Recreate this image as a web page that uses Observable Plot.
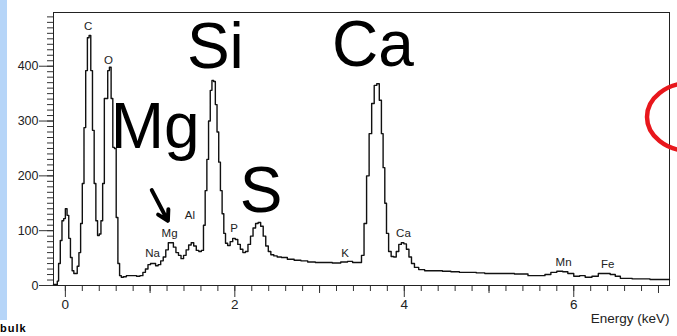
<!DOCTYPE html>
<html>
<head>
<meta charset="utf-8">
<script src="https://cdn.jsdelivr.net/npm/d3@7"></script>
<script src="https://cdn.jsdelivr.net/npm/@observablehq/plot@0.6"></script>
<style>
html,body{margin:0;padding:0;background:#fff;}
#wrap{position:relative;width:677px;height:336px;overflow:hidden;font-family:"Liberation Sans",Arial,sans-serif;background:#fff;}
#chart{position:absolute;left:0;top:0;}
#strip{position:absolute;left:0;top:0;width:7px;height:320px;background:#b6d5f8;}
#foot{position:absolute;left:0;top:322px;font:bold 11px/12px "Liberation Sans",Arial,sans-serif;color:#000;letter-spacing:1px;}
#arc{position:absolute;left:0;top:0;pointer-events:none;}
</style>
</head>
<body>
<div id="wrap">
  <div id="chart"></div>
  <div id="strip"></div>
  <div id="foot">bulk</div>
  <svg id="arc" width="677" height="336"><ellipse cx="690" cy="117" rx="43" ry="34" fill="none" stroke="#e8171c" stroke-width="4.5"/></svg>
</div>
<script>
// Spectrum (energy in keV, counts)
const energy = [
  -0.14,-0.10,-0.09,-0.07,-0.05,-0.03,-0.01,0.01,0.03,0.05,
  0.07,0.09,0.11,0.13,0.15,0.17,0.19,0.21,0.23,0.25,
  0.27,0.29,0.31,0.33,0.35,0.37,0.39,0.41,0.43,0.45,
  0.47,0.49,0.51,0.53,0.55,0.57,0.59,0.61,0.63,0.65,
  0.67,0.70,0.74,0.78,0.82,0.86,0.90,0.93,0.96,0.99,
  1.02,1.05,1.08,1.11,1.14,1.17,1.20,1.23,1.26,1.29,
  1.32,1.35,1.38,1.41,1.44,1.47,1.50,1.53,1.56,1.59,
  1.62,1.64,1.66,1.68,1.70,1.72,1.74,1.76,1.78,1.80,
  1.82,1.84,1.86,1.88,1.90,1.93,1.96,1.99,2.02,2.05,
  2.08,2.11,2.14,2.17,2.20,2.23,2.26,2.29,2.32,2.35,
  2.38,2.41,2.44,2.48,2.52,2.58,2.66,2.74,2.82,2.90,
  3.00,3.10,3.20,3.30,3.36,3.42,3.48,3.51,3.54,3.57,
  3.60,3.63,3.66,3.69,3.72,3.74,3.76,3.78,3.80,3.83,
  3.86,3.89,3.92,3.95,3.98,4.01,4.04,4.07,4.10,4.14,
  4.20,4.28,4.40,4.50,4.60,4.70,4.80,4.90,5.00,5.20,
  5.40,5.52,5.62,5.70,5.76,5.84,5.90,5.96,6.04,6.10,
  6.17,6.26,6.32,6.40,6.46,6.52,6.58,6.80,7.00,7.13
];
const counts = [
  2,2,8,40,82,118,122,140,128,86,
  51,27,22,22,35,60,113,186,288,392,
  452,456,392,283,186,118,91,94,118,186,
  341,341,392,398,341,252,250,124,40,18,
  15,16,18,18,18,17,18,24,30,38,
  40,40,36,38,45,52,65,78,78,70,
  60,55,49,55,65,74,78,72,64,62,
  64,110,173,230,300,356,374,372,330,280,
  225,173,131,95,77,73,80,86,84,75,
  66,60,62,75,90,105,113,115,108,90,
  72,62,56,54,52,51,48,46,45,43,
  42,42,41,43,44,42,42,55,113,200,
  277,332,365,368,338,277,215,150,95,62,
  53,52,62,75,78,76,66,52,40,33,
  29,27,27,26,25,24,24,23,22,22,
  21,18,18,20,24,26,25,22,17,18,
  15,17,22,22,20,17,13,12,11,11
];

// Small peak labels
const peakLabels = ["C","O","Na","Mg","Al","P","K","Ca","Mn","Fe"];
const peakLabelEnergy = [0.27,0.51,1.03,1.23,1.47,1.99,3.30,3.99,5.88,6.40];
const peakLabelCounts = [473,411,58,95,128,104,58,95,42,38];

// Large element annotations
const bigLabels = ["Si","Mg","S","Ca"];
const bigLabelEnergy = [1.77,1.06,2.31,3.63];
const bigLabelCounts = [435,289,172,438];

// Arrow pointing at the Mg peak
const arrowFrom = [1.02, 174];
const arrowTo = [1.21, 118];

// Axis ticks
const yMajorTicks = [0,100,200,300,400];
const yMinorTicks = d3.range(0, 500, 10);
const xMajorTicks = [0,2,4,6];
const xMidTicks = [1,3,5,7];
const xMinorTicks = d3.range(0, 36).map(i => i * 0.2);
const xAxisTitle = ["Energy (keV)"];

const spectrum = energy.map((e, i) => ({e, c: counts[i]}));
const small = peakLabels.map((t, i) => ({t, e: peakLabelEnergy[i], c: peakLabelCounts[i]}));
const big = bigLabels.map((t, i) => ({t, e: bigLabelEnergy[i], c: bigLabelCounts[i]}));
const arrows = [{x1: arrowFrom[0], y1: arrowFrom[1], x2: arrowTo[0], y2: arrowTo[1]}];

const font = "Liberation Sans, Arial, sans-serif";

const chart = Plot.plot({
  width: 677,
  height: 336,
  marginLeft: 53,
  marginRight: 8,
  marginTop: 12,
  marginBottom: 51,
  style: {background: "transparent", fontFamily: font, fontSize: "13px", color: "#222"},
  x: {domain: [-0.14, 7.13], axis: null},
  y: {domain: [0, 498], axis: null},
  marks: [
    Plot.axisY(yMinorTicks, {tickSize: 6, tickFormat: () => "", label: null, stroke: "#333"}),
    Plot.axisY(yMajorTicks, {tickSize: 14, tickPadding: 1, label: null, fontSize: 12.5, stroke: "#333"}),
    Plot.axisX(xMinorTicks, {tickSize: 6, tickFormat: () => "", label: null, stroke: "#333"}),
    Plot.axisX(xMidTicks, {tickSize: 8, tickFormat: () => "", label: null, stroke: "#333"}),
    Plot.axisX(xMajorTicks, {tickSize: 12, tickPadding: 2, label: null, fontSize: 13.5, stroke: "#333"}),
    Plot.frame({stroke: "#222", strokeWidth: 1}),
    Plot.line(spectrum, {x: "e", y: "c", curve: "step", stroke: "#111", strokeWidth: 1.4}),
    Plot.text(small, {x: "e", y: "c", text: "t", fontSize: 11.5, fill: "#222", fontFamily: font}),
    Plot.text(big, {x: "e", y: "c", text: "t", fontSize: 64, fill: "#000", fontFamily: font}),
    Plot.arrow(arrows, {x1: "x1", y1: "y1", x2: "x2", y2: "y2", stroke: "#000", strokeWidth: 4, headLength: 11, headAngle: 60}),
    Plot.text(xAxisTitle, {text: d => d, frameAnchor: "bottom-right", dy: 37, textAnchor: "end", fontSize: 13.5, fill: "#222", fontFamily: font})
  ]
});
document.getElementById("chart").appendChild(chart);
</script>
</body>
</html>
